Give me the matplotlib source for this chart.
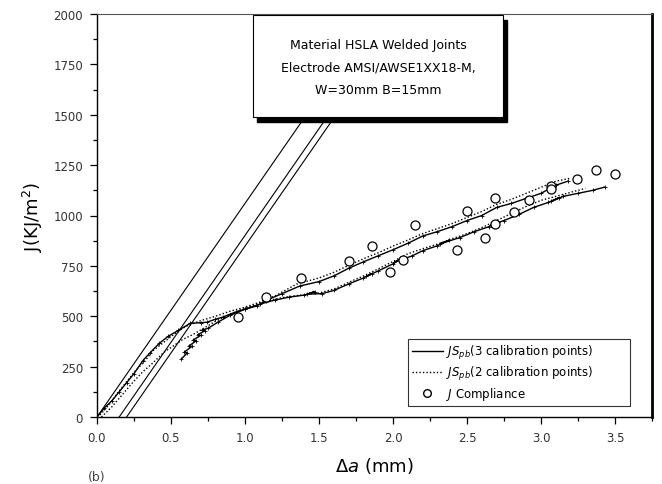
import matplotlib
matplotlib.use("Agg")
import matplotlib.pyplot as plt
from matplotlib.lines import Line2D

plt.rcParams['font.family'] = ['DejaVu Sans']
plt.rcParams['mathtext.fontset'] = 'dejavusans'

# ---- data ----
blunt_offsets = [0.0, 0.15, 0.20]      # mm, construction lines
blunt_slope = 1060.0                    # kJ/m^2 per mm

upper_solid_x = [0.00, 0.05, 0.10, 0.15, 0.20, 0.25, 0.31, 0.36, 0.42, 0.48, 0.55, 0.63, 0.70, 0.74, 0.80, 0.85,
                 0.94, 1.00, 1.08, 1.14, 1.25, 1.37, 1.50, 1.60, 1.70, 1.80, 1.90, 2.00, 2.10, 2.20, 2.30,
                 2.40, 2.50, 2.60, 2.70, 2.80, 2.90, 3.00, 3.10, 3.18]
upper_solid_y = [0, 45, 80, 125, 170, 215, 280, 320, 365, 400, 430, 465, 468, 470, 485, 496,
                 522, 535, 551, 578, 612, 650, 672, 700, 738, 770, 800, 830, 862, 898, 920,
                 945, 975, 1000, 1040, 1060, 1085, 1110, 1150, 1170]

upper_dot_x = [0.02, 0.08, 0.14, 0.20, 0.26, 0.32, 0.38, 0.45, 0.52, 0.60, 0.70, 0.80, 0.90, 1.00, 1.10,
               1.20, 1.35, 1.50, 1.60, 1.70, 1.80, 1.90, 2.00, 2.10, 2.20, 2.30, 2.40, 2.50, 2.60,
               2.70, 2.80, 2.90, 3.00, 3.10, 3.20]
upper_dot_y = [10, 60, 120, 175, 230, 275, 330, 370, 410, 450, 478, 500, 525, 545, 570,
               600, 660, 690, 718, 752, 785, 815, 848, 878, 910, 935, 960, 990, 1020,
               1055, 1080, 1110, 1140, 1170, 1185]

lower_solid_x = [0.57, 0.61, 0.59, 0.64, 0.62, 0.67, 0.65, 0.70, 0.68, 0.73, 0.71, 0.75, 0.82, 0.90,
                 1.00, 1.10, 1.20, 1.30, 1.40, 1.47, 1.42, 1.52, 1.60, 1.70, 1.80, 1.86, 1.82, 1.90,
                 2.00, 2.06, 2.01, 2.13, 2.20, 2.30, 2.38, 2.32, 2.45, 2.55, 2.65, 2.71, 2.66, 2.75,
                 2.85, 2.95, 3.05, 3.12, 3.07, 3.15, 3.25, 3.35, 3.43]
lower_solid_y = [288, 318, 322, 350, 352, 378, 382, 405, 408, 428, 432, 440, 472, 505,
                 535, 560, 580, 595, 605, 622, 610, 612, 628, 660, 690, 712, 698, 725,
                 760, 790, 768, 800, 825, 850, 878, 860, 890, 920, 945, 968, 952, 975,
                 1005, 1040, 1065, 1088, 1070, 1095, 1110, 1125, 1141]

lower_dot_x = [0.03, 0.10, 0.17, 0.24, 0.31, 0.38, 0.45, 0.52, 0.58, 0.65, 0.72, 0.80, 0.90, 1.00, 1.10,
               1.20, 1.30, 1.40, 1.50, 1.60, 1.70, 1.80, 1.90, 2.00, 2.10, 2.20, 2.30, 2.40, 2.50,
               2.60, 2.70, 2.80, 2.90, 3.00, 3.10, 3.20, 3.30]
lower_dot_y = [0, 50, 110, 170, 225, 270, 320, 355, 385, 410, 440, 475, 510, 540, 565,
               585, 598, 607, 615, 635, 668, 700, 735, 772, 810, 835, 858, 885, 910,
               940, 975, 1010, 1045, 1075, 1095, 1115, 1135]

comp_x = [0.95, 1.14, 1.38, 1.70, 1.86, 1.98, 2.07, 2.15, 2.43, 2.50, 2.62, 2.69, 2.69, 2.82, 2.92,
          3.07, 3.07, 3.24, 3.37, 3.50]
comp_y = [496, 595, 690, 774, 849, 720, 779, 953, 829, 1022, 888, 958, 1087, 1017, 1077,
          1146, 1130, 1180, 1225, 1205]

x_ticks = [0.0, 0.5, 1.0, 1.5, 2.0, 2.5, 3.0, 3.5]
y_ticks = [0, 250, 500, 750, 1000, 1250, 1500, 1750, 2000]

# ---- figure ----
fig = plt.figure(figsize=(6.62, 4.85), dpi=100)
ax = fig.add_axes([97/662, 67/485, 555/662, 403/485])

ax.set_xlim(0, 3.74)
ax.set_ylim(0, 2000)

for off in blunt_offsets:
    xe = off + 2100 / blunt_slope
    ax.plot([off, xe], [0, blunt_slope * (xe - off)], color='black', lw=0.8)

ax.plot(upper_solid_x, upper_solid_y, color='black', lw=1.0, marker='+', ms=2.5, mew=0.6)
ax.plot(lower_solid_x, lower_solid_y, color='black', lw=1.0, marker='+', ms=2.5, mew=0.6)
ax.plot(upper_dot_x, upper_dot_y, color='black', lw=1.0, ls=(0, (1, 1.5)))
ax.plot(lower_dot_x, lower_dot_y, color='black', lw=1.0, ls=(0, (1, 1.5)))
ax.plot(comp_x, comp_y, ls='none', marker='o', ms=6.5, mfc='white', mec='black', mew=0.9)

ax.set_xticks(x_ticks)
ax.set_xticklabels([f"{v:.1f}" for v in x_ticks])
ax.set_yticks(y_ticks)
ax.set_yticklabels([str(v) for v in y_ticks])
ax.set_xticks([v + 0.25 for v in x_ticks], minor=True)
ax.set_yticks([v + 125 for v in y_ticks[:-1]], minor=True)
ax.tick_params(which='major', direction='out', length=5, width=0.9, labelsize=8.5, pad=5)
ax.tick_params(which='minor', direction='out', length=3, width=0.9)
for lab in ax.get_xticklabels() + ax.get_yticklabels():
    lab.set_color('#333333')

ax.spines['top'].set_color('#555555')
ax.spines['top'].set_linewidth(0.8)
ax.spines['right'].set_linewidth(2.0)
ax.spines['left'].set_linewidth(1.0)
ax.spines['bottom'].set_linewidth(1.0)

ax.set_ylabel(r"J(KJ/m$^2$)", fontsize=13, labelpad=6)
ax.set_xlabel(r"$\Delta a$ (mm)", fontsize=13, labelpad=8)

# text box with shadow
tb_x0, tb_y0, tb_w, tb_h = 253/662, (485-118)/485, 250/662, 102/485
fig.patches.append(plt.Rectangle((tb_x0 + 4/662, tb_y0 - 5/485), tb_w, tb_h, transform=fig.transFigure,
                                 facecolor='black', edgecolor='black', zorder=5))
fig.patches.append(plt.Rectangle((tb_x0, tb_y0), tb_w, tb_h, transform=fig.transFigure,
                                 facecolor='white', edgecolor='black', lw=0.8, zorder=6))
fig.text(tb_x0 + tb_w/2, (485-45)/485, "Material HSLA Welded Joints", ha='center', va='center',
         fontsize=9, zorder=7)
fig.text(tb_x0 + tb_w/2, (485-68)/485, "Electrode AMSI/AWSE1XX18-M,", ha='center', va='center',
         fontsize=9, zorder=7)
fig.text(tb_x0 + tb_w/2, (485-90)/485, "W=30mm B=15mm", ha='center', va='center',
         fontsize=9, zorder=7)

handles = [Line2D([], [], color='black', lw=1.0),
           Line2D([], [], color='black', lw=1.0, ls=(0, (1, 1.5))),
           Line2D([], [], ls='none', marker='o', ms=5.5, mfc='white', mec='black')]
labels = [r"$JS_{pb}$(3 calibration points)", r"$JS_{pb}$(2 calibration points)", r"$J$ Compliance"]
leg = ax.legend(handles, labels, loc='lower left', bbox_to_anchor=(0.56, 0.027, 0.40, 0.17),
                mode='expand', fontsize=8.5, frameon=True, fancybox=False, edgecolor='black',
                borderpad=0.35, labelspacing=0.25, handlelength=2.6, handletextpad=0.3, borderaxespad=0)
leg.get_frame().set_linewidth(0.8)

fig.text(88/662, 4/485, "(b)", fontsize=9, color='#444444')

fig.savefig("out.png", dpi=100)
